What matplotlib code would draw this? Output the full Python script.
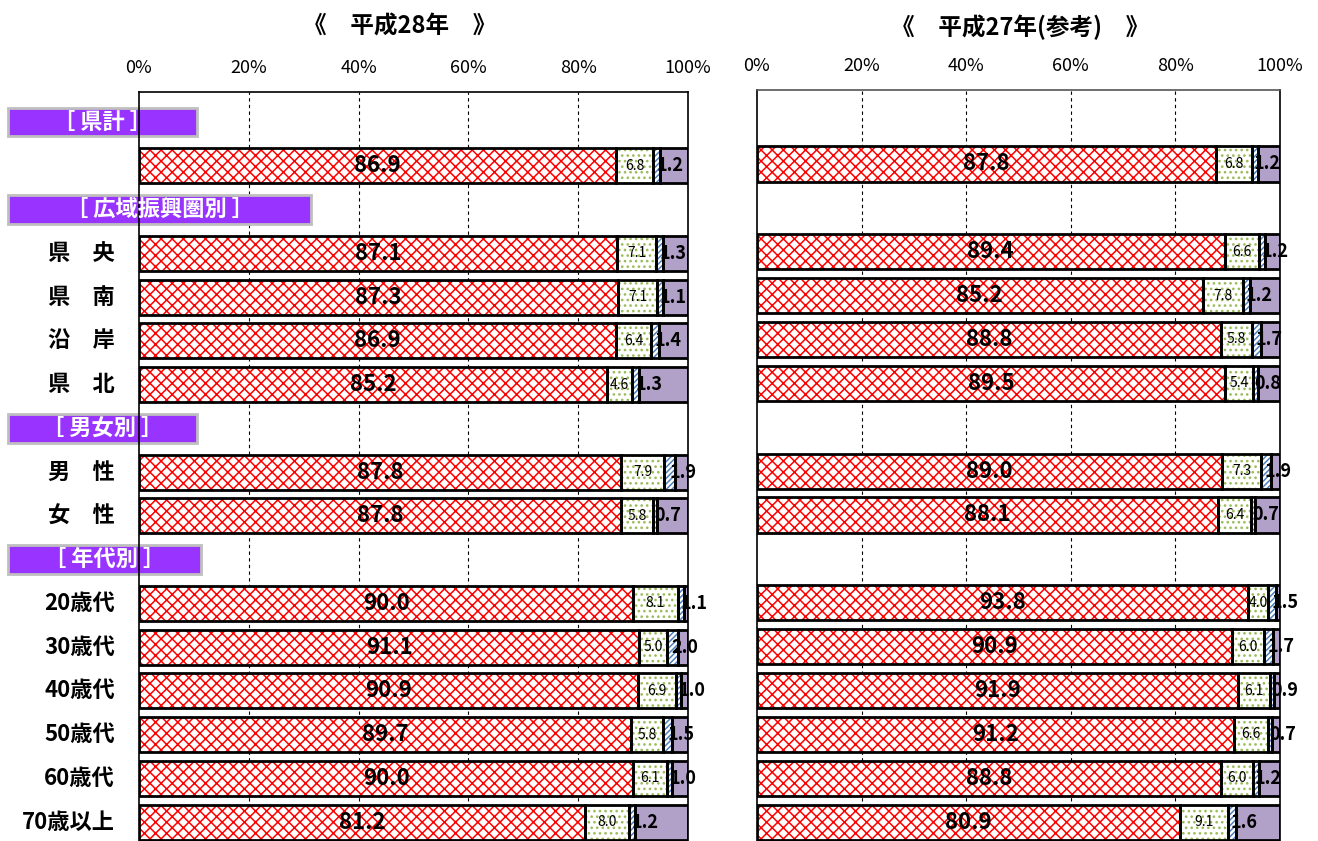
import numpy as np
import matplotlib
matplotlib.use('Agg')
import matplotlib.pyplot as plt
from matplotlib.patches import Rectangle
import matplotlib.transforms as mtransforms

plt.rcParams['font.family'] = ['Noto Sans CJK JP', 'DejaVu Sans']
plt.rcParams['hatch.linewidth'] = 1.1

# rows ('' = bar without label, headers listed in header_rows)
rows = ['［ 県計 ］', '', '［ 広域振興圏別 ］', '県　央', '県　南', '沿　岸', '県　北',
        '［ 男女別 ］', '男　性', '女　性', '［ 年代別 ］',
        '20歳代', '30歳代', '40歳代', '50歳代', '60歳代', '70歳以上']
header_rows = [0, 2, 7, 10]
header_right_px = [197, 311, 197, 201]
bar_rows = [1, 3, 4, 5, 6, 8, 9, 11, 12, 13, 14, 15, 16]

# 平成28年
h28_a = [86.9, 87.1, 87.3, 86.9, 85.2, 87.8, 87.8, 90.0, 91.1, 90.9, 89.7, 90.0, 81.2]
h28_b = [6.8, 7.1, 7.1, 6.4, 4.6, 7.9, 5.8, 8.1, 5.0, 6.9, 5.8, 6.1, 8.0]
h28_c = [1.2, 1.3, 1.1, 1.4, 1.3, 1.9, 0.7, 1.1, 2.0, 1.0, 1.5, 1.0, 1.2]
# 平成27年(参考)
h27_a = [87.8, 89.4, 85.2, 88.8, 89.5, 89.0, 88.1, 93.8, 90.9, 91.9, 91.2, 88.8, 80.9]
h27_b = [6.8, 6.6, 7.8, 5.8, 5.4, 7.3, 6.4, 4.0, 6.0, 6.1, 6.6, 6.0, 9.1]
h27_c = [1.2, 1.2, 1.2, 1.7, 0.8, 1.9, 0.7, 1.5, 1.7, 0.9, 0.7, 1.2, 1.6]

W, H = 1318, 841
fig = plt.figure(figsize=(W / 100, H / 100), dpi=100)

def px_box(x0, x1, ytop, ybot):
    return [x0 / W, 1 - ybot / H, (x1 - x0) / W, (ybot - ytop) / H]

ax1 = fig.add_axes(px_box(139, 688, 92, 841))
ax2 = fig.add_axes(px_box(757, 1280, 90, 841))

ylim = (16.43, -0.686)
bh = 0.8

def seg(ax, y, left, width, face, hatch, hcol):
    ax.barh(y, width, left=left, height=bh, color=face, hatch=hatch,
            edgecolor=hcol, linewidth=0, zorder=2)
    ax.barh(y, width, left=left, height=bh, color='none',
            edgecolor='black', linewidth=2, zorder=3)

def panel(ax, a, b, c):
    a = np.array(a); b = np.array(b); c = np.array(c)
    d = 100 - a - b - c
    ys = np.array(bar_rows)
    seg(ax, ys, 0, a, 'white', 'xxx', '#FF0000')
    seg(ax, ys, a, b, 'white', '...', '#9BBB59')
    seg(ax, ys, a + b, c, 'white', '//////', '#4F81BD')
    seg(ax, ys, a + b + c, d, '#B1A0C7', None, 'black')
    for y, va, vb, vc in zip(ys, a, b, c):
        ax.text(va / 2, y, f'{va:.1f}', ha='center', va='center',
                fontsize=16, fontweight='bold', zorder=5)
        ax.text(va + vb / 2, y, f'{vb:.1f}', ha='center', va='center',
                fontsize=10, zorder=5)
        ax.text(va + vb + vc / 2 + 2.4, y, f'{vc:.1f}', ha='center', va='center',
                fontsize=13, fontweight='bold', zorder=5)
    ax.set_xlim(0, 100)
    ax.set_ylim(*ylim)
    ax.set_yticks([])
    ax.set_xticks([0, 20, 40, 60, 80, 100])
    ax.set_xticklabels(['0%', '20%', '40%', '60%', '80%', '100%'], fontsize=13)
    ax.xaxis.tick_top()
    ax.tick_params(axis='x', length=0, pad=11)
    for x in [20, 40, 60, 80]:
        ax.axvline(x, color='black', lw=0.8, ls=(0, (3, 3)), zorder=1)
    ax.spines['bottom'].set_visible(False)
    for s in ['top', 'left', 'right']:
        ax.spines[s].set_linewidth(1.2)

panel(ax1, h28_a, h28_b, h28_c)
panel(ax2, h27_a, h27_b, h27_c)
ax2.spines['top'].set_color('#555555')

# row labels and group headers
tr = mtransforms.blended_transform_factory(fig.transFigure, ax1.transData)
for i, lab in enumerate(rows):
    if i in header_rows:
        k = header_rows.index(i)
        x1 = header_right_px[k]
        ax1.add_patch(Rectangle((8 / W, i - 0.33), (x1 - 8) / W, 0.66,
                                transform=tr, facecolor='#9933FF',
                                edgecolor='#BFBFBF', linewidth=2, clip_on=False))
        ax1.text((8 + x1) / 2 / W, i, lab, transform=tr, ha='center', va='center',
                 fontsize=16, fontweight='bold', color='white', clip_on=False)
    elif lab:
        ax1.text(115 / W, i, lab, transform=tr, ha='right', va='center',
                 fontsize=16, fontweight='bold', clip_on=False)

fig.text(400 / W, 1 - 27 / H, '《　平成28年　》', ha='center', va='center',
         fontsize=17, fontweight='bold')
fig.text(1020 / W, 1 - 27 / H, '《　平成27年(参考)　》', ha='center', va='center',
         fontsize=17, fontweight='bold')

fig.savefig('out.png', dpi=100)
